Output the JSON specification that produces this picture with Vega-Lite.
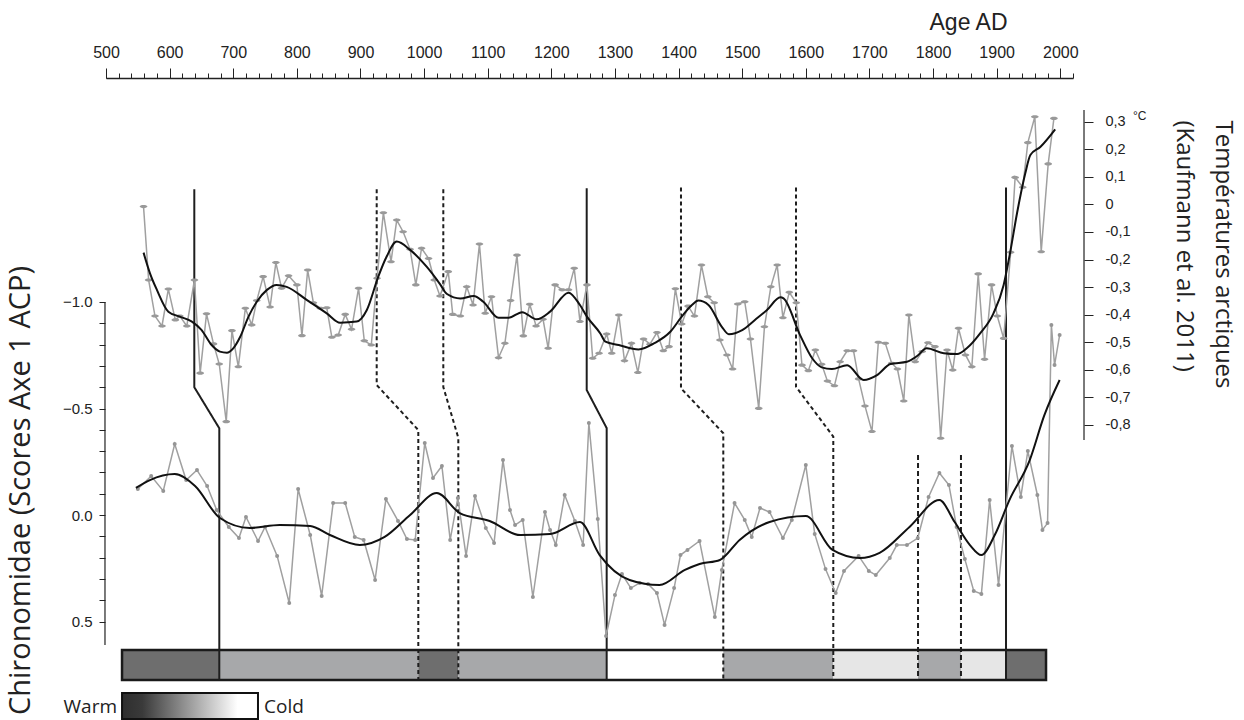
{
  "$schema": "https://vega.github.io/schema/vega-lite/v6.json",
  "width": 967,
  "height": 642,
  "autosize": {"type": "none"},
  "padding": {"left": 106, "top": 78, "right": 171, "bottom": 0},
  "background": "white",
  "config": {
    "view": {"stroke": null},
    "axis": {"grid": false, "labelFont": "Liberation Sans", "labelColor": "#222", "tickColor": "#222", "domainColor": "#222", "titleFont": "Liberation Sans", "titleFontWeight": "normal", "titleColor": "#222"}
  },
  "datasets": {
    "temp": [
      {"year":559,"t":-0.008},{"year":567,"t":-0.274},{"year":577,"t":-0.405},{"year":588,"t":-0.441},{"year":598,"t":-0.307},{"year":609,"t":-0.419},{"year":616,"t":-0.405},{"year":627,"t":-0.441},{"year":639,"t":-0.274},{"year":648,"t":-0.612},
      {"year":658,"t":-0.397},{"year":669,"t":-0.506},{"year":678,"t":-0.579},{"year":689,"t":-0.788},{"year":698,"t":-0.458},{"year":708,"t":-0.589},{"year":719,"t":-0.377},{"year":729,"t":-0.437},{"year":737,"t":-0.349},{"year":747,"t":-0.262},
      {"year":758,"t":-0.372},{"year":767,"t":-0.211},{"year":776,"t":-0.304},{"year":787,"t":-0.259},{"year":800,"t":-0.292},{"year":808,"t":-0.476},{"year":817,"t":-0.238},{"year":826,"t":-0.357},{"year":837,"t":-0.377},{"year":847,"t":-0.375},
      {"year":855,"t":-0.482},{"year":865,"t":-0.474},{"year":876,"t":-0.399},{"year":886,"t":-0.453},{"year":897,"t":-0.304},{"year":906,"t":-0.495},{"year":917,"t":-0.510},{"year":926,"t":-0.268},{"year":936,"t":-0.030},{"year":948,"t":-0.208},
      {"year":957,"t":-0.057},{"year":967,"t":-0.099},{"year":978,"t":-0.163},{"year":987,"t":-0.292},{"year":996,"t":-0.159},{"year":1007,"t":-0.196},{"year":1016,"t":-0.274},{"year":1025,"t":-0.332},{"year":1038,"t":-0.244},{"year":1045,"t":-0.399},
      {"year":1057,"t":-0.405},{"year":1067,"t":-0.299},{"year":1077,"t":-0.365},{"year":1087,"t":-0.144},{"year":1096,"t":-0.395},{"year":1106,"t":-0.335},{"year":1117,"t":-0.556},{"year":1127,"t":-0.504},{"year":1136,"t":-0.349},{"year":1146,"t":-0.184},
      {"year":1156,"t":-0.477},{"year":1166,"t":-0.362},{"year":1176,"t":-0.441},{"year":1187,"t":-0.417},{"year":1195,"t":-0.522},{"year":1206,"t":-0.292},{"year":1217,"t":-0.310},{"year":1227,"t":-0.310},{"year":1236,"t":-0.232},{"year":1245,"t":-0.425},
      {"year":1256,"t":-0.292},{"year":1265,"t":-0.558},{"year":1275,"t":-0.540},{"year":1287,"t":-0.470},{"year":1295,"t":-0.540},{"year":1306,"t":-0.401},{"year":1315,"t":-0.567},{"year":1326,"t":-0.504},{"year":1336,"t":-0.610},{"year":1345,"t":-0.488},
      {"year":1355,"t":-0.507},{"year":1366,"t":-0.465},{"year":1376,"t":-0.531},{"year":1385,"t":-0.516},{"year":1395,"t":-0.306},{"year":1405,"t":-0.434},{"year":1415,"t":-0.369},{"year":1425,"t":-0.405},{"year":1436,"t":-0.220},{"year":1446,"t":-0.335},
      {"year":1456,"t":-0.357},{"year":1465,"t":-0.492},{"year":1476,"t":-0.546},{"year":1485,"t":-0.597},{"year":1493,"t":-0.361},{"year":1504,"t":-0.353},{"year":1513,"t":-0.488},{"year":1526,"t":-0.740},{"year":1535,"t":-0.444},{"year":1545,"t":-0.299},
      {"year":1555,"t":-0.220},{"year":1564,"t":-0.411},{"year":1574,"t":-0.319},{"year":1585,"t":-0.357},{"year":1594,"t":-0.583},{"year":1604,"t":-0.603},{"year":1615,"t":-0.528},{"year":1625,"t":-0.580},{"year":1634,"t":-0.641},{"year":1645,"t":-0.658},
      {"year":1654,"t":-0.571},{"year":1665,"t":-0.531},{"year":1675,"t":-0.531},{"year":1683,"t":-0.633},{"year":1693,"t":-0.731},{"year":1704,"t":-0.824},{"year":1714,"t":-0.500},{"year":1725,"t":-0.504},{"year":1735,"t":-0.576},{"year":1744,"t":-0.597},
      {"year":1754,"t":-0.713},{"year":1762,"t":-0.401},{"year":1772,"t":-0.571},{"year":1783,"t":-0.534},{"year":1792,"t":-0.502},{"year":1803,"t":-0.516},{"year":1812,"t":-0.848},{"year":1822,"t":-0.528},{"year":1831,"t":-0.601},{"year":1840,"t":-0.449},
      {"year":1851,"t":-0.546},{"year":1861,"t":-0.589},{"year":1871,"t":-0.252},{"year":1881,"t":-0.562},{"year":1892,"t":-0.292},{"year":1901,"t":-0.405},{"year":1911,"t":-0.486},{"year":1922,"t":-0.174},{"year":1929,"t":0.098},{"year":1941,"t":0.062},
      {"year":1949,"t":0.224},{"year":1960,"t":0.318},{"year":1970,"t":-0.172},{"year":1981,"t":0.147},{"year":1990,"t":0.312}
    ],
    "tsmooth": [
      {"year":559,"t":-0.175},{"year":569,"t":-0.249},{"year":580,"t":-0.310},{"year":598,"t":-0.389},{"year":616,"t":-0.407},{"year":635,"t":-0.425},{"year":650,"t":-0.455},{"year":666,"t":-0.510},{"year":679,"t":-0.534},{"year":690,"t":-0.538},
      {"year":700,"t":-0.522},{"year":711,"t":-0.480},{"year":724,"t":-0.407},{"year":737,"t":-0.353},{"year":753,"t":-0.310},{"year":768,"t":-0.292},{"year":784,"t":-0.299},{"year":816,"t":-0.347},{"year":847,"t":-0.395},{"year":868,"t":-0.429},
      {"year":894,"t":-0.425},{"year":910,"t":-0.383},{"year":928,"t":-0.262},{"year":941,"t":-0.190},{"year":957,"t":-0.135},{"year":978,"t":-0.165},{"year":1004,"t":-0.226},{"year":1025,"t":-0.289},{"year":1036,"t":-0.325},{"year":1057,"t":-0.341},
      {"year":1078,"t":-0.332},{"year":1093,"t":-0.353},{"year":1117,"t":-0.411},{"year":1133,"t":-0.411},{"year":1154,"t":-0.391},{"year":1177,"t":-0.417},{"year":1198,"t":-0.389},{"year":1227,"t":-0.320},{"year":1245,"t":-0.365},{"year":1256,"t":-0.407},
      {"year":1277,"t":-0.468},{"year":1285,"t":-0.498},{"year":1306,"t":-0.510},{"year":1337,"t":-0.526},{"year":1363,"t":-0.502},{"year":1387,"t":-0.462},{"year":1405,"t":-0.407},{"year":1421,"t":-0.365},{"year":1431,"t":-0.349},{"year":1447,"t":-0.365},
      {"year":1468,"t":-0.444},{"year":1479,"t":-0.471},{"year":1500,"t":-0.456},{"year":1520,"t":-0.419},{"year":1539,"t":-0.383},{"year":1560,"t":-0.337},{"year":1565,"t":-0.341},{"year":1591,"t":-0.474},{"year":1610,"t":-0.558},{"year":1625,"t":-0.591},
      {"year":1641,"t":-0.597},{"year":1665,"t":-0.583},{"year":1691,"t":-0.637},{"year":1712,"t":-0.619},{"year":1733,"t":-0.579},{"year":1759,"t":-0.571},{"year":1775,"t":-0.550},{"year":1790,"t":-0.522},{"year":1817,"t":-0.540},{"year":1838,"t":-0.543},
      {"year":1853,"t":-0.522},{"year":1874,"t":-0.468},{"year":1895,"t":-0.395},{"year":1911,"t":-0.292},{"year":1921,"t":-0.177},{"year":1932,"t":-0.032},{"year":1945,"t":0.113},{"year":1953,"t":0.179},{"year":1969,"t":0.209},{"year":1992,"t":0.272}
    ],
    "chiro": [
      {"year":550,"c":-0.122},{"year":571,"c":-0.183},{"year":590,"c":-0.113},{"year":608,"c":-0.333},{"year":626,"c":-0.164},{"year":643,"c":-0.211},{"year":659,"c":-0.136},{"year":674,"c":-0.023},{"year":693,"c":0.056},{"year":709,"c":0.108},
      {"year":720,"c":0.009},{"year":739,"c":0.122},{"year":750,"c":0.056},{"year":769,"c":0.192},{"year":788,"c":0.413},{"year":802,"c":-0.122},{"year":821,"c":0.094},{"year":839,"c":0.380},{"year":857,"c":-0.056},{"year":876,"c":-0.056},
      {"year":891,"c":0.103},{"year":905,"c":0.117},{"year":923,"c":0.305},{"year":940,"c":-0.075},{"year":959,"c":0.028},{"year":973,"c":0.113},{"year":986,"c":0.117},{"year":1001,"c":-0.338},{"year":1014,"c":-0.174},{"year":1028,"c":-0.230},
      {"year":1041,"c":0.117},{"year":1053,"c":-0.080},{"year":1066,"c":0.192},{"year":1080,"c":-0.089},{"year":1097,"c":0.061},{"year":1110,"c":0.131},{"year":1124,"c":-0.258},{"year":1135,"c":-0.023},{"year":1143,"c":0.047},{"year":1155,"c":0.023},
      {"year":1171,"c":0.385},{"year":1190,"c":-0.014},{"year":1198,"c":0.070},{"year":1207,"c":0.141},{"year":1221,"c":-0.094},{"year":1237,"c":0.028},{"year":1250,"c":0.141},{"year":1259,"c":-0.432},{"year":1273,"c":0.019},{"year":1286,"c":0.568},
      {"year":1300,"c":0.376},{"year":1311,"c":0.277},{"year":1325,"c":0.343},{"year":1339,"c":0.319},{"year":1352,"c":0.324},{"year":1366,"c":0.366},{"year":1378,"c":0.516},{"year":1393,"c":0.343},{"year":1403,"c":0.188},{"year":1414,"c":0.164},
      {"year":1433,"c":0.122},{"year":1457,"c":0.479},{"year":1468,"c":0.258},{"year":1488,"c":-0.056},{"year":1504,"c":0.023},{"year":1515,"c":0.103},{"year":1528,"c":-0.033},{"year":1543,"c":-0.014},{"year":1564,"c":0.108},{"year":1578,"c":0.023},
      {"year":1600,"c":-0.235},{"year":1614,"c":0.089},{"year":1631,"c":0.254},{"year":1647,"c":0.366},{"year":1660,"c":0.263},{"year":1683,"c":0.192},{"year":1699,"c":0.263},{"year":1710,"c":0.282},{"year":1732,"c":0.202},{"year":1743,"c":0.141},
      {"year":1759,"c":0.141},{"year":1776,"c":0.108},{"year":1793,"c":-0.085},{"year":1810,"c":-0.197},{"year":1825,"c":-0.141},{"year":1837,"c":0.056},{"year":1850,"c":0.207},{"year":1864,"c":0.357},{"year":1876,"c":0.371},{"year":1889,"c":-0.070},
      {"year":1903,"c":0.329},{"year":1924,"c":-0.324},{"year":1938,"c":-0.085},{"year":1949,"c":-0.300},{"year":1964,"c":-0.094},{"year":1972,"c":0.070},{"year":1980,"c":0.038},{"year":1986,"c":-0.892},{"year":1991,"c":-0.704},{"year":1999,"c":-0.845}
    ],
    "csmooth": [
      {"year":547,"c":-0.127},{"year":569,"c":-0.164},{"year":608,"c":-0.192},{"year":640,"c":-0.136},{"year":679,"c":0.014},{"year":726,"c":0.061},{"year":773,"c":0.047},{"year":821,"c":0.052},{"year":852,"c":0.094},{"year":899,"c":0.141},
      {"year":938,"c":0.103},{"year":978,"c":0.0},{"year":1020,"c":-0.103},{"year":1056,"c":-0.009},{"year":1103,"c":0.028},{"year":1151,"c":0.094},{"year":1198,"c":0.089},{"year":1245,"c":0.033},{"year":1276,"c":0.188},{"year":1323,"c":0.305},
      {"year":1370,"c":0.329},{"year":1410,"c":0.258},{"year":1433,"c":0.230},{"year":1465,"c":0.211},{"year":1496,"c":0.117},{"year":1543,"c":0.033},{"year":1600,"c":0.005},{"year":1642,"c":0.164},{"year":1685,"c":0.202},{"year":1716,"c":0.178},
      {"year":1763,"c":0.056},{"year":1810,"c":-0.070},{"year":1834,"c":0.033},{"year":1858,"c":0.141},{"year":1876,"c":0.188},{"year":1897,"c":0.094},{"year":1920,"c":-0.070},{"year":1952,"c":-0.258},{"year":1975,"c":-0.469},{"year":1999,"c":-0.634}
    ],
    "band": [
      {"s":525.2,"e":678.1,"lvl":"warm"},{"s":678.1,"e":990.9,"lvl":"mild"},{"s":990.9,"e":1053.8,"lvl":"warm"},{"s":1053.8,"e":1287.0,"lvl":"mild"},{"s":1287.0,"e":1470.3,"lvl":"cold"},
      {"s":1470.3,"e":1643.2,"lvl":"mild"},{"s":1643.2,"e":1776.4,"lvl":"cool"},{"s":1776.4,"e":1843.9,"lvl":"mild"},{"s":1843.9,"e":1914.7,"lvl":"cool"},{"s":1914.7,"e":1977.6,"lvl":"warm"}
    ],
    "conn": [
      {"id":1,"seq":1,"year":638.8,"c":-1.529,"style":"solid"},{"id":1,"seq":2,"year":638.8,"c":-0.600,"style":"solid"},{"id":1,"seq":3,"year":678.1,"c":-0.407,"style":"solid"},{"id":1,"seq":4,"year":678.1,"c":0.7746,"style":"solid"},
      {"id":2,"seq":1,"year":925.5,"c":-1.529,"style":"dashed"},{"id":2,"seq":2,"year":925.5,"c":-0.610,"style":"dashed"},{"id":2,"seq":3,"year":990.9,"c":-0.399,"style":"dashed"},{"id":2,"seq":4,"year":990.9,"c":0.7746,"style":"dashed"},
      {"id":3,"seq":1,"year":1030.2,"c":-1.529,"style":"dashed"},{"id":3,"seq":2,"year":1030.2,"c":-0.601,"style":"dashed"},{"id":3,"seq":3,"year":1053.8,"c":-0.362,"style":"dashed"},{"id":3,"seq":4,"year":1053.8,"c":0.7746,"style":"dashed"},
      {"id":4,"seq":1,"year":1255.6,"c":-1.534,"style":"solid"},{"id":4,"seq":2,"year":1255.6,"c":-0.587,"style":"solid"},{"id":4,"seq":3,"year":1287.0,"c":-0.408,"style":"solid"},{"id":4,"seq":4,"year":1287.0,"c":0.7746,"style":"solid"},
      {"id":5,"seq":1,"year":1403.8,"c":-1.538,"style":"dashed"},{"id":5,"seq":2,"year":1403.8,"c":-0.595,"style":"dashed"},{"id":5,"seq":3,"year":1470.3,"c":-0.384,"style":"dashed"},{"id":5,"seq":4,"year":1470.3,"c":0.7746,"style":"dashed"},
      {"id":6,"seq":1,"year":1584.6,"c":-1.538,"style":"dashed"},{"id":6,"seq":2,"year":1584.6,"c":-0.602,"style":"dashed"},{"id":6,"seq":3,"year":1643.2,"c":-0.368,"style":"dashed"},{"id":6,"seq":4,"year":1643.2,"c":0.7746,"style":"dashed"},
      {"id":7,"seq":1,"year":1776.4,"c":-0.282,"style":"dashed2"},{"id":7,"seq":2,"year":1776.4,"c":0.7746,"style":"dashed2"},
      {"id":8,"seq":1,"year":1843.9,"c":-0.282,"style":"dashed2"},{"id":8,"seq":2,"year":1843.9,"c":0.7746,"style":"dashed2"},
      {"id":9,"seq":1,"year":1914.7,"c":-1.538,"style":"solid"},{"id":9,"seq":2,"year":1914.7,"c":0.7746,"style":"solid"}
    ]
  },
  "layer": [
    {
      "data": {"name": "band"},
      "mark": {"type": "rect"},
      "encoding": {
        "x": {"field": "s", "type": "quantitative", "scale": {"domain": [500, 2020], "nice": false, "zero": false}, "axis": null},
        "x2": {"field": "e"},
        "y": {"datum": 0.6338, "type": "quantitative", "scale": {"domain": [-2.0516, 0.9624], "reverse": true, "nice": false, "zero": false}, "axis": null},
        "y2": {"datum": 0.7746},
        "color": {"field": "lvl", "type": "nominal", "scale": {"domain": ["warm", "mild", "cool", "cold"], "range": ["#6e6e6e", "#a7a8aa", "#e6e6e6", "#ffffff"]}, "legend": null}
      }
    },
    {
      "data": {"values": [{}]},
      "mark": {"type": "rect", "fillOpacity": 0, "stroke": "#1a1a1a", "strokeWidth": 2.5},
      "encoding": {
        "x": {"datum": 525.2, "type": "quantitative", "scale": {"domain": [500, 2020], "nice": false, "zero": false}, "axis": null},
        "x2": {"datum": 1977.6},
        "y": {"datum": 0.6338, "type": "quantitative", "scale": {"domain": [-2.0516, 0.9624], "reverse": true, "nice": false, "zero": false}, "axis": null},
        "y2": {"datum": 0.7746}
      }
    },
    {
      "data": {"name": "conn"},
      "mark": {"type": "line", "strokeWidth": 2, "color": "#1e1e1e"},
      "encoding": {
        "x": {"field": "year", "type": "quantitative", "scale": {"domain": [500, 2020], "nice": false, "zero": false}, "axis": null},
        "y": {"field": "c", "type": "quantitative", "scale": {"domain": [-2.0516, 0.9624], "reverse": true, "nice": false, "zero": false}, "axis": null},
        "detail": {"field": "id", "type": "nominal"},
        "order": {"field": "seq", "type": "quantitative"},
        "strokeDash": {"field": "style", "type": "nominal", "scale": {"domain": ["solid", "dashed", "dashed2"], "range": [[1, 0], [4, 3], [5, 3]]}, "legend": null}
      }
    },
    {
      "data": {"name": "chiro"},
      "mark": {"type": "line", "color": "#a0a0a0", "strokeWidth": 1.5, "point": {"filled": true, "color": "#959595", "size": 16}},
      "encoding": {
        "x": {"field": "year", "type": "quantitative", "scale": {"domain": [500, 2020], "nice": false, "zero": false}, "axis": null},
        "y": {"field": "c", "type": "quantitative", "scale": {"domain": [-2.0516, 0.9624], "reverse": true, "nice": false, "zero": false},
          "axis": {"orient": "left", "offset": 1, "values": [-1, -0.9, -0.8, -0.7, -0.6, -0.5, -0.4, -0.3, -0.2, -0.1, 0, 0.1, 0.2, 0.3, 0.4, 0.5],
            "labelExpr": "abs(datum.value*2 - round(datum.value*2)) < 0.001 ? format(datum.value, '.1f') : ''",
            "domain": false, "tickSize": 6, "labelFontSize": 15, "labelPadding": 7, "labelOverlap": false,
            "title": "Chironomidae (Scores Axe 1 ACP)", "titleFont": "Open Sans", "titleFontSize": 29, "titleX": -85, "titleY": 412, "titleAlign": "center", "titleBaseline": "middle"}}
      }
    },
    {
      "data": {"name": "csmooth"},
      "mark": {"type": "line", "color": "#111", "strokeWidth": 2, "interpolate": "monotone"},
      "encoding": {
        "x": {"field": "year", "type": "quantitative", "scale": {"domain": [500, 2020], "nice": false, "zero": false}, "axis": null},
        "y": {"field": "c", "type": "quantitative", "scale": {"domain": [-2.0516, 0.9624], "reverse": true, "nice": false, "zero": false}, "axis": null}
      }
    },
    {
      "data": {"values": [{}]},
      "mark": {"type": "rule", "color": "#222", "strokeWidth": 1.2},
      "encoding": {
        "x": {"datum": 498.4, "type": "quantitative", "scale": {"domain": [500, 2020], "nice": false, "zero": false}, "axis": null},
        "y": {"datum": -1.0, "type": "quantitative", "scale": {"domain": [-2.0516, 0.9624], "reverse": true, "nice": false, "zero": false}, "axis": null},
        "y2": {"datum": 0.61}
      }
    },
    {
      "data": {"values": [{}]},
      "mark": {"type": "rect", "stroke": "#111", "strokeWidth": 2, "fill": {"gradient": "linear", "x1": 0, "y1": 0, "x2": 1, "y2": 0, "stops": [{"offset": 0, "color": "#2e2e2e"}, {"offset": 0.15, "color": "#3a3a3a"}, {"offset": 0.85, "color": "#ffffff"}, {"offset": 1, "color": "#ffffff"}]}},
      "encoding": {
        "x": {"datum": 525.2, "type": "quantitative", "scale": {"domain": [500, 2020], "nice": false, "zero": false}, "axis": null},
        "x2": {"datum": 738.9},
        "y": {"datum": 0.8357, "type": "quantitative", "scale": {"domain": [-2.0516, 0.9624], "reverse": true, "nice": false, "zero": false}, "axis": null},
        "y2": {"datum": 0.958}
      }
    },
    {
      "data": {"values": [{"label": "Warm", "year": 517.3}]},
      "mark": {"type": "text", "font": "Open Sans", "fontSize": 19, "baseline": "middle", "align": "right", "color": "#222"},
      "encoding": {
        "x": {"field": "year", "type": "quantitative", "scale": {"domain": [500, 2020], "nice": false, "zero": false}, "axis": null},
        "y": {"datum": 0.9014, "type": "quantitative", "scale": {"domain": [-2.0516, 0.9624], "reverse": true, "nice": false, "zero": false}, "axis": null},
        "text": {"field": "label"}
      }
    },
    {
      "data": {"values": [{"label": "Cold", "year": 748.4}]},
      "mark": {"type": "text", "font": "Open Sans", "fontSize": 19, "baseline": "middle", "align": "left", "color": "#222"},
      "encoding": {
        "x": {"field": "year", "type": "quantitative", "scale": {"domain": [500, 2020], "nice": false, "zero": false}, "axis": null},
        "y": {"datum": 0.9014, "type": "quantitative", "scale": {"domain": [-2.0516, 0.9624], "reverse": true, "nice": false, "zero": false}, "axis": null},
        "text": {"field": "label"}
      }
    },
    {
      "data": {"name": "temp"},
      "mark": {"type": "line", "color": "#a0a0a0", "strokeWidth": 1.5, "point": {"filled": true, "color": "#999999", "size": 60, "shape": "M-1,0A1,0.4,0,1,1,1,0A1,0.4,0,1,1,-1,0Z"}},
      "encoding": {
        "x": {"field": "year", "type": "quantitative", "scale": {"domain": [500, 2020], "nice": false, "zero": false},
          "axis": {"orient": "top", "values": [500,520,540,560,580,600,620,640,660,680,700,720,740,760,780,800,820,840,860,880,900,920,940,960,980,1000,1020,1040,1060,1080,1100,1120,1140,1160,1180,1200,1220,1240,1260,1280,1300,1320,1340,1360,1380,1400,1420,1440,1460,1480,1500,1520,1540,1560,1580,1600,1620,1640,1660,1680,1700,1720,1740,1760,1780,1800,1820,1840,1860,1880,1900,1920,1940,1960,1980,2000,2020],
            "labels": false, "tickSize": 5, "domain": true, "domainWidth": 1.3, "title": null}},
        "y": {"field": "t", "type": "quantitative", "scale": {"domain": [-1.8702, 0.4585], "nice": false, "zero": false},
          "axis": {"orient": "right", "offset": 11, "values": [0.3, 0.2, 0.1, 0, -0.1, -0.2, -0.3, -0.4, -0.5, -0.6, -0.7, -0.8],
            "labelExpr": "datum.value == 0 ? '0' : replace(replace(format(datum.value, '.1f'), '.', ','), '\u2212', '-')",
            "domain": false, "tickSize": 9, "labelFontSize": 14.5, "labelPadding": 12, "labelOverlap": false,
            "title": ["Températures arctiques", "(Kaufmann et al. 2011)"], "titleFont": "Open Sans", "titleFontSize": 24, "titleAngle": 90, "titleX": 138, "titleY": 42, "titleAlign": "left", "titleBaseline": "middle", "titleLineHeight": 39}}
      }
    },
    {
      "data": {"name": "tsmooth"},
      "mark": {"type": "line", "color": "#111", "strokeWidth": 2, "interpolate": "monotone"},
      "encoding": {
        "x": {"field": "year", "type": "quantitative", "scale": {"domain": [500, 2020], "nice": false, "zero": false},
          "axis": {"orient": "top", "values": [500,600,700,800,900,1000,1100,1200,1300,1400,1500,1600,1700,1800,1900,2000], "format": "d",
            "tickSize": 10, "labelFontSize": 16, "labelPadding": 8, "labelFlush": false, "labelOverlap": false, "domain": false,
            "title": "Age AD", "titleFontSize": 23, "titleX": 862, "titleY": -56, "titleAlign": "center", "titleBaseline": "middle"}},
        "y": {"field": "t", "type": "quantitative", "scale": {"domain": [-1.8702, 0.4585], "nice": false, "zero": false}, "axis": null}
      }
    },
    {
      "data": {"values": [{}]},
      "mark": {"type": "rule", "color": "#222", "strokeWidth": 1.2},
      "encoding": {
        "x": {"datum": 2037.3, "type": "quantitative", "scale": {"domain": [500, 2020], "nice": false, "zero": false}, "axis": null},
        "y": {"datum": 0.342, "type": "quantitative", "scale": {"domain": [-1.8702, 0.4585], "nice": false, "zero": false}, "axis": null},
        "y2": {"datum": -0.855}
      }
    },
    {
      "data": {"values": [{"label": "°C"}]},
      "mark": {"type": "text", "fontSize": 12, "font": "Liberation Sans", "align": "left", "baseline": "middle", "color": "#222"},
      "encoding": {
        "x": {"datum": 2114.3, "type": "quantitative", "scale": {"domain": [500, 2020], "nice": false, "zero": false}, "axis": null},
        "y": {"datum": 0.32, "type": "quantitative", "scale": {"domain": [-1.8702, 0.4585], "nice": false, "zero": false}, "axis": null},
        "text": {"field": "label"}
      }
    }
  ],
  "resolve": {"scale": {"y": "independent"}, "axis": {"x": "independent", "y": "independent"}}
}
